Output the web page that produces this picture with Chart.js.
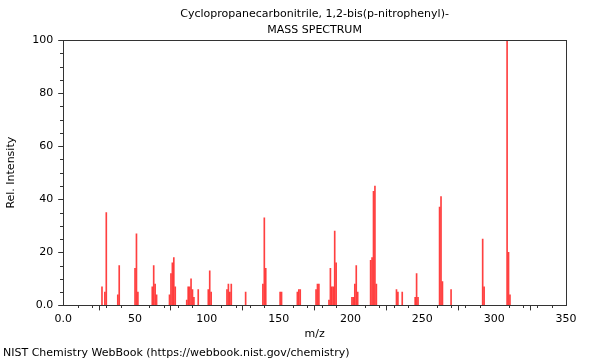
<!DOCTYPE html>
<html>
<head>
<meta charset="utf-8">
<script src="https://cdn.jsdelivr.net/npm/chart.js@4"></script>
<style>
  html, body { margin: 0; padding: 0; background: #fff; }
  #wrap { width: 600px; height: 360px; }
</style>
</head>
<body>
<div id="wrap"><canvas id="ms" width="600" height="360"></canvas></div>
<script>
// peak positions (m/z) and relative intensities
const mzValues = [27, 29, 30, 38, 39, 50, 51, 52, 62, 63, 64, 65, 74, 75, 76, 77, 78,
    86, 87, 88, 89, 90, 91, 94, 101, 102, 103, 114, 115, 116, 117, 127,
    139, 140, 141, 151, 152, 163, 164, 165, 176, 177, 178,
    185, 186, 187, 188, 189, 190, 201, 202, 203, 204, 205,
    214, 215, 216, 217, 218, 232, 233, 236, 245, 246, 247,
    262, 263, 264, 270, 292, 293, 309, 310, 311];
const intensities = [7, 5, 35, 4, 15, 14, 27, 5, 7, 15, 8, 4, 4, 12, 16, 18, 7,
    2, 7, 7, 10, 6, 3, 6, 6, 13, 5, 6, 8, 5, 8, 5,
    8, 33, 14, 5, 5, 5, 6, 6, 6, 8, 8,
    2, 14, 7, 7, 28, 16, 3, 3, 8, 15, 5,
    17, 18, 43, 45, 8, 6, 5, 5, 3, 12, 3,
    37, 41, 9, 6, 25, 7, 100, 20, 4];
const xTicks = [0, 50, 100, 150, 200, 250, 300, 350];
const yTicks = [0, 20, 40, 60, 80, 100];

const chartTitle = ["Cyclopropanecarbonitrile, 1,2-bis(p-nitrophenyl)-", "MASS SPECTRUM"];
const footerText = "NIST Chemistry WebBook (https://webbook.nist.gov/chemistry)";

const FONT = "'DejaVu Sans', sans-serif";

// frame around plot, minor ticks and the title centred over the plot area
const framePlugin = {
    id: "frame",
    afterDraw(chart) {
        const ctx = chart.ctx;
        const a = chart.chartArea;
        ctx.save();
        ctx.strokeStyle = "#333";
        ctx.lineWidth = 1;
        ctx.strokeRect(Math.round(a.left) + 0.5, Math.round(a.top) + 0.5,
            Math.round(a.right - a.left), Math.round(a.bottom - a.top));

        const xs = chart.scales.x;
        const ys = chart.scales.y;
        ctx.beginPath();
        for (let v = 0; v <= 350; v += 10) {
            if (v % 50 === 0) continue;
            const px = Math.round(xs.getPixelForValue(v)) + 0.5;
            ctx.moveTo(px, Math.round(a.bottom));
            ctx.lineTo(px, Math.round(a.bottom) + 3);
        }
        for (let v = 0; v <= 100; v += 5) {
            if (v % 20 === 0) continue;
            const py = Math.round(ys.getPixelForValue(v)) + 0.5;
            ctx.moveTo(Math.round(a.left), py);
            ctx.lineTo(Math.round(a.left) - 3, py);
        }
        ctx.stroke();

        ctx.fillStyle = "#000";
        ctx.font = "11px " + FONT;
        ctx.textAlign = "center";
        ctx.textBaseline = "middle";
        const cx = (a.left + a.right) / 2;
        ctx.fillText(chartTitle[0], cx, 14);
        ctx.fillText(chartTitle[1], cx, 30);
        ctx.restore();
    }
};

const ctx = document.getElementById("ms").getContext("2d");
new Chart(ctx, {
    type: "bar",
    data: {
        datasets: [{
            data: mzValues.map((m, i) => ({ x: m, y: intensities[i] })),
            backgroundColor: "rgba(255, 30, 30, 0.85)",
            barThickness: 1,
            borderWidth: 0
        }]
    },
    options: {
        responsive: false,
        animation: false,
        layout: { padding: { left: 3, right: 34, top: 40, bottom: 0 } },
        plugins: {
            legend: { display: false },
            tooltip: { enabled: false },
            title: { display: false },
            subtitle: {
                display: true,
                text: footerText,
                position: "bottom",
                align: "start",
                color: "#000",
                font: { family: FONT, size: 11, weight: "normal" },
                padding: { top: 4, bottom: 0 }
            }
        },
        scales: {
            x: {
                type: "linear",
                min: 0,
                max: 350,
                offset: false,
                afterBuildTicks: axis => { axis.ticks = xTicks.map(v => ({ value: v })); },
                grid: { drawOnChartArea: false, tickLength: 5, color: "#333" },
                border: { color: "#333" },
                ticks: {
                    color: "#000",
                    font: { family: FONT, size: 11 },
                    maxRotation: 0,
                    padding: 2,
                    callback: v => v === 0 ? "0.0" : String(v)
                },
                title: {
                    display: true,
                    text: "m/z",
                    color: "#000",
                    font: { family: FONT, size: 11 },
                    padding: { top: 0, bottom: 2 }
                }
            },
            y: {
                min: 0,
                max: 100,
                afterBuildTicks: axis => { axis.ticks = yTicks.map(v => ({ value: v })); },
                grid: { drawOnChartArea: false, tickLength: 5, color: "#333" },
                border: { color: "#333" },
                ticks: {
                    color: "#000",
                    font: { family: FONT, size: 11 },
                    padding: 5,
                    callback: v => v === 0 ? "0.0" : String(v)
                },
                title: {
                    display: true,
                    text: "Rel. Intensity",
                    color: "#000",
                    font: { family: FONT, size: 11 },
                    padding: { top: 2, bottom: 9 }
                }
            }
        }
    },
    plugins: [framePlugin]
});
</script>
</body>
</html>
